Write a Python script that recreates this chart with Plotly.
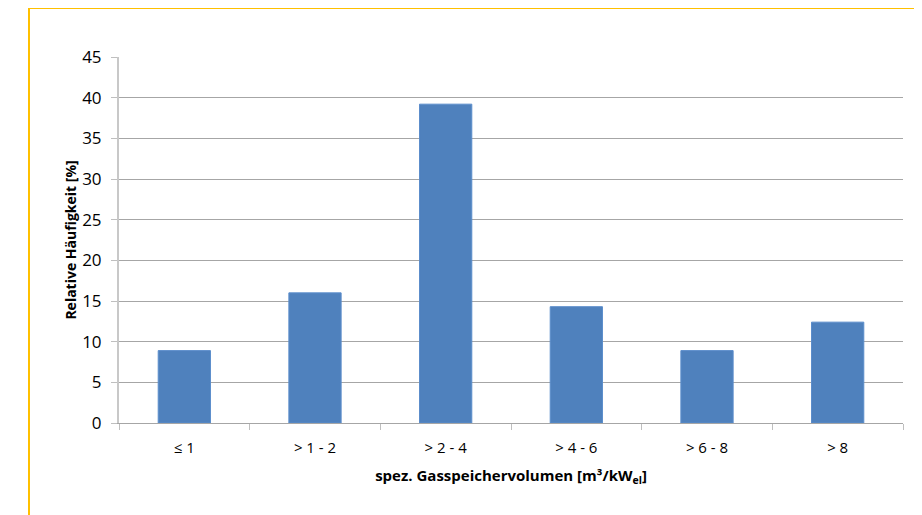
import plotly.graph_objects as go

categories = ["≤ 1", "> 1 - 2", "> 2 - 4", "> 4 - 6", "> 6 - 8", "> 8"]
values = [8.9, 16.0, 39.2, 14.3, 8.9, 12.4]
y_ticks = [0, 5, 10, 15, 20, 25, 30, 35, 40, 45]

OFF = 8  # page body margin
W, H = 922, 515
# target plot area in window pixels: x 119..903, y 57..423
L, R, T, B = 119 - OFF, W + OFF - 903, 57 - OFF, H + OFF - 423
pw, ph = W - L - R, H - T - B

def px_x(x):
    return (x - OFF - L) / pw

def px_y(y):
    return (H - B - (y - OFF)) / ph

fig = go.Figure()
fig.add_trace(go.Bar(
    x=categories, y=values,
    marker=dict(color="#4F81BD", line=dict(color="#5B8DCB", width=1)),
    width=0.4,
))

font_family = "Open Sans, Liberation Sans, sans-serif"
fig.update_layout(
    width=W, height=H,
    margin=dict(l=L, r=R, t=T, b=B),
    paper_bgcolor="white", plot_bgcolor="white",
    showlegend=False,
    font=dict(family=font_family, color="#000000", size=14),
    xaxis=dict(
        type="category",
        showgrid=False,
        showline=True, linecolor="#a6a6a6", linewidth=1,
        ticks="outside", tickson="boundaries", ticklen=6, tickcolor="#bfbfbf",
        tickfont=dict(size=15),
        ticklabelstandoff=11,
        title=dict(text="<b>spez. Gasspeichervolumen [m³/kW<sub>el</sub>]</b>",
                   font=dict(size=15), standoff=14),
    ),
    yaxis=dict(
        range=[0, 45],
        tickvals=y_ticks,
        showgrid=True, gridcolor="#a6a6a6", gridwidth=1,
        showline=True, linecolor="#c8c8c8", linewidth=2,
        ticks="outside", ticklen=6, tickcolor="#bfbfbf",
        tickfont=dict(size=17),
        ticklabelstandoff=6,
        zeroline=False,
        title=dict(text="<b>Relative Häufigkeit [%]</b>", font=dict(size=14), standoff=2),
    ),
    shapes=[
        dict(type="line", xref="paper", yref="paper",
             x0=px_x(29), x1=px_x(935), y0=px_y(8), y1=px_y(8),
             line=dict(color="#FFC000", width=2)),
        dict(type="line", xref="paper", yref="paper",
             x0=px_x(29), x1=px_x(29), y0=px_y(8), y1=px_y(530),
             line=dict(color="#FFC000", width=2)),
    ],
)

fig.write_html("out.html")
